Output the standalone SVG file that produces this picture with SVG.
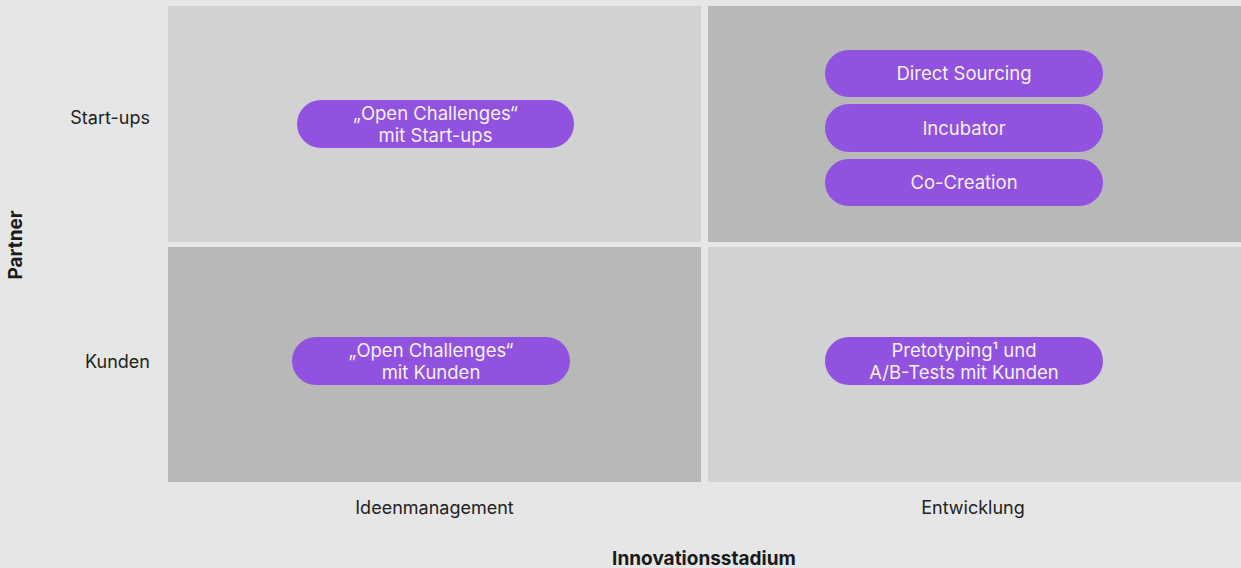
<svg xmlns="http://www.w3.org/2000/svg" width="1241" height="568" viewBox="0 0 1241 568">
<style>
.bg{fill:#e6e6e6}
.light{fill:#d2d2d2}
.dark{fill:#b8b8b8}
.pill{fill:#9152e0}
.pt{font-family:Inter,"Liberation Sans",sans-serif;font-size:18.5px;fill:#f6f0ff;text-anchor:middle}
.lbl{font-family:Inter,"Liberation Sans",sans-serif;font-size:18px;fill:#222;}
.ax{font-family:Inter,"Liberation Sans",sans-serif;font-size:19px;font-weight:700;fill:#1a1a1a;text-anchor:middle}
</style>
<rect class="bg" x="0" y="0" width="1241" height="568"/>
<g id="quadrants">
<rect class="light" x="168" y="6" width="533" height="236"/>
<rect class="dark" x="708" y="6" width="533" height="236"/>
<rect class="dark" x="168" y="247" width="533" height="235"/>
<rect class="light" x="708" y="247" width="533" height="235"/>
</g>
<g id="axis-labels">
<text class="lbl" x="150" y="123.5" text-anchor="end">Start-ups</text>
<text class="lbl" x="150" y="367.5" text-anchor="end">Kunden</text>
<text class="lbl" x="434.5" y="514" text-anchor="middle">Ideenmanagement</text>
<text class="lbl" x="973" y="514" text-anchor="middle">Entwicklung</text>
<text class="ax" x="704" y="565">Innovationsstadium</text>
<text class="ax" transform="translate(22,245) rotate(-90)">Partner</text>
</g>
<g id="node-oc-startups">
<rect class="pill" x="297" y="100" width="277" height="48" rx="24"/>
<text class="pt" x="435.5" y="119.5">„Open Challenges“</text>
<text class="pt" x="435.5" y="141.5">mit Start-ups</text>
</g>
<g id="node-direct-sourcing">
<rect class="pill" x="825" y="50" width="278" height="47" rx="23.5"/>
<text class="pt" x="964" y="80">Direct Sourcing</text>
</g>
<g id="node-incubator">
<rect class="pill" x="825" y="104" width="278" height="48" rx="24"/>
<text class="pt" x="964" y="134.5">Incubator</text>
</g>
<g id="node-co-creation">
<rect class="pill" x="825" y="159" width="278" height="47" rx="23.5"/>
<text class="pt" x="964" y="188.5">Co-Creation</text>
</g>
<g id="node-oc-kunden">
<rect class="pill" x="292" y="337" width="278" height="48" rx="24"/>
<text class="pt" x="431" y="356.5">„Open Challenges“</text>
<text class="pt" x="431" y="378.5">mit Kunden</text>
</g>
<g id="node-pretotyping">
<rect class="pill" x="825" y="337" width="278" height="48" rx="24"/>
<text class="pt" x="964" y="356.5">Pretotyping¹ und</text>
<text class="pt" x="964" y="378.5">A/B-Tests mit Kunden</text>
</g>
<g id="connectors"></g>
</svg>
